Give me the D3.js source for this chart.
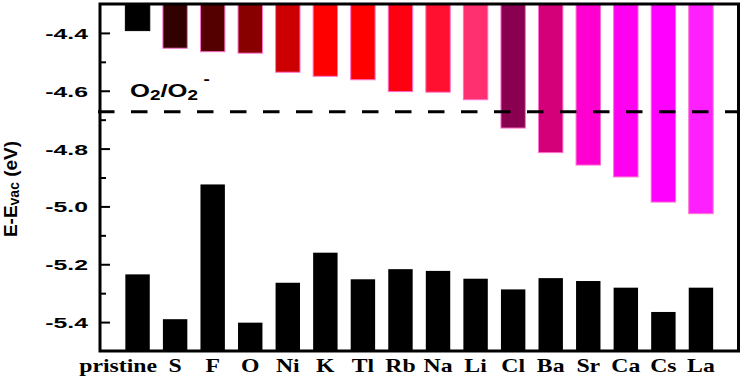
<!DOCTYPE html>
<html><head><meta charset="utf-8">
<script src="https://cdn.jsdelivr.net/npm/d3@7"></script>
<style>body{margin:0;background:#fff} svg{display:block}</style>
</head><body><svg id="c" width="746" height="378"></svg>
<script>
const categories = ["pristine","S","F","O","Ni","K","Tl","Rb","Na","Li","Cl","Ba","Sr","Ca","Cs","La"];
const upperValues = [-4.392,-4.453,-4.465,-4.470,-4.536,-4.550,-4.562,-4.603,-4.605,-4.631,-4.729,-4.814,-4.857,-4.898,-4.985,-5.025];
const lowerValues = [-5.235,-5.390,-4.924,-5.402,-5.264,-5.160,-5.252,-5.217,-5.223,-5.250,-5.287,-5.248,-5.258,-5.281,-5.365,-5.281];
const upperColors = ["#000000","#330000","#550000","#880000","#cc0000","#ff0000","#ff0000","#ff0010","#ff1030","#ff3070","#8a0050","#d4007a","#ff00d0","#ff00f0","#ff00ff","#ff20ff"];
const yTicks = [-5.4,-5.2,-5.0,-4.8,-4.6,-4.4];
const yMinorTicks = [-5.3,-5.1,-4.9,-4.7,-4.5];
const yDomain = [-5.5,-4.3];
const redoxLevel = -4.673;

const svg = d3.select("#c");
const L = 100, R = 738.5, T = 4, B = 351;
const x = d3.scaleLinear().domain([0, categories.length + 1]).range([L, R]);
const y = d3.scaleLinear().domain(yDomain).range([B, T]);
const bw = (x(1) - x(0)) * 0.65;

// upper bars (hanging from top)
svg.append("g").selectAll("rect").data(upperValues).join("rect")
  .attr("x", (d,i) => x(i+1) - bw/2)
  .attr("y", y(yDomain[1]))
  .attr("width", bw)
  .attr("height", d => y(d) - y(yDomain[1]))
  .attr("fill", (d,i) => upperColors[i])
  .attr("stroke", (d,i) => i === 0 ? "#000" : "#ff70d0")
  .attr("stroke-width", 1);

// lower bars (rising from bottom)
svg.append("g").selectAll("rect").data(lowerValues).join("rect")
  .attr("x", (d,i) => x(i+1) - bw/2)
  .attr("y", d => y(d))
  .attr("width", bw)
  .attr("height", d => y(yDomain[0]) - y(d))
  .attr("fill", "#000");

// dashed redox line
svg.append("line")
  .attr("x1", L - 2).attr("x2", R)
  .attr("y1", y(redoxLevel)).attr("y2", y(redoxLevel))
  .attr("stroke", "#000").attr("stroke-width", 3)
  .attr("stroke-dasharray", "16.5,16.5");

// O2/O2- label
const lab = svg.append("g").attr("transform", `translate(130,97) scale(1.35,1)`);
const t = lab.append("text").attr("font-family", "Liberation Sans, Arial, sans-serif")
  .attr("font-weight", "bold").attr("font-size", 19).attr("fill", "#000");
t.append("tspan").text("O");
t.append("tspan").attr("font-size", 14).attr("dy", 3).text("2");
t.append("tspan").attr("dy", -3).text("/O");
t.append("tspan").attr("font-size", 14).attr("dy", 3).text("2");
t.append("tspan").attr("font-size", 14).attr("dy", -16).attr("dx", 4).text("-");

// minor ticks
svg.append("g").attr("transform", `translate(${L},0)`)
  .call(d3.axisLeft(y).tickValues(yMinorTicks).tickSize(-6).tickFormat(""))
  .call(g => g.select(".domain").remove())
  .call(g => g.selectAll("line").attr("stroke", "#000").attr("stroke-width", 2));

// major ticks + labels
const sx = 1.6;
svg.append("g").attr("transform", `translate(${L},0)`)
  .call(d3.axisLeft(y).tickValues(yTicks).tickSize(-10).tickPadding(0).tickFormat(d => d.toFixed(1)))
  .call(g => g.select(".domain").remove())
  .call(g => g.selectAll("line").attr("stroke", "#000").attr("stroke-width", 2))
  .call(g => g.selectAll("text")
    .attr("font-family", "Liberation Sans, Arial, sans-serif")
    .attr("font-weight", "bold").attr("font-size", 15.5).attr("fill", "#000")
    .attr("x", -12 / sx).attr("dy", "0.35em")
    .attr("transform", `scale(${sx},1)`));

// frame
svg.append("rect").attr("x", L).attr("y", T).attr("width", R - L).attr("height", B - T)
  .attr("fill", "none").attr("stroke", "#000").attr("stroke-width", 3);

// x labels
const xl = svg.append("g");
categories.forEach((c, i) => {
  const first = i === 0;
  const cx = first ? x(i+1) + bw * 0.8 : x(i+1);
  xl.append("g").attr("transform", `translate(${cx},371.5) scale(1.25,1)`)
    .append("text")
    .attr("text-anchor", first ? "end" : "middle")
    .attr("font-family", "Liberation Serif, Times New Roman, serif")
    .attr("font-weight", "bold").attr("font-size", 19).attr("fill", "#000")
    .text(c);
});

// y title
const yt = svg.append("g").attr("transform", "translate(17,189) rotate(-90)")
  .append("text").attr("text-anchor", "middle")
  .attr("font-family", "Liberation Sans, Arial, sans-serif")
  .attr("font-weight", "bold").attr("font-size", 19).attr("fill", "#000");
yt.append("tspan").text("E-E");
yt.append("tspan").attr("font-size", 14).attr("dy", 2).text("vac");
yt.append("tspan").attr("dy", -2).text(" (eV)");
</script></body></html>
